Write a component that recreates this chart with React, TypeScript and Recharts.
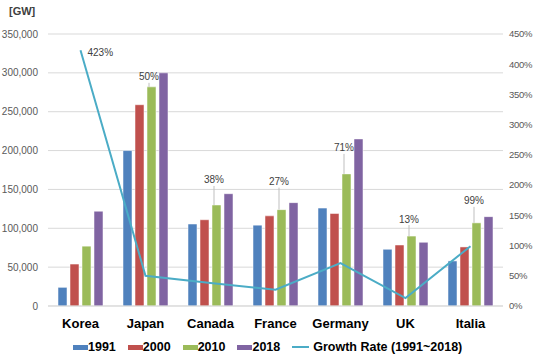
import React from 'react'
import { ComposedChart, Bar, Line, XAxis, YAxis, CartesianGrid, Legend } from 'recharts'

const countries = ['Korea', 'Japan', 'Canada', 'France', 'Germany', 'UK', 'Italia']
const cap1991 = [24000, 200000, 105500, 104000, 126000, 73000, 58000]
const cap2000 = [54000, 259000, 111000, 116000, 119000, 78500, 76000]
const cap2010 = [77000, 282000, 130000, 124000, 170000, 90000, 107000]
const cap2018 = [122000, 300000, 144500, 133000, 215000, 82000, 115000]
const growth = [423, 50, 38, 27, 71, 13, 99]

const leftTicks = [0, 50000, 100000, 150000, 200000, 250000, 300000, 350000]
const rightTicks = [0, 50, 100, 150, 200, 250, 300, 350, 400, 450]

const data = countries.map((name, i) => ({
  name,
  y1991: cap1991[i],
  y2000: cap2000[i],
  y2010: cap2010[i],
  y2018: cap2018[i],
  growth: growth[i],
}))

const FONT = '"Liberation Sans", Arial, sans-serif'

// how far each growth label sits above its 2010 bar (layout only)
const labelLift = [0, 10, 25, 28, 26, 17, 22]

const legendItems = [
  { label: '1991', color: '#4F81BD', kind: 'bar' },
  { label: '2000', color: '#C0504D', kind: 'bar' },
  { label: '2010', color: '#9BBB59', kind: 'bar' },
  { label: '2018', color: '#8064A2', kind: 'bar' },
  { label: 'Growth Rate (1991~2018)', color: '#4BACC6', kind: 'line' },
]

function BarGrowthLabel(props: any) {
  const { index } = props
  if (index === 0) return null
  const x = Number(props.x)
  const y = Number(props.y)
  const cx = x + 2
  const ty = y - labelLift[index]
  return (
    <g>
      <line x1={cx} y1={ty + 6} x2={cx} y2={y} stroke="#BFBFBF" strokeWidth={1} />
      <text x={cx} y={ty} textAnchor="middle" dominantBaseline="central" fontSize={10} fill="#404040" fontFamily={FONT}>
        {growth[index]}%
      </text>
    </g>
  )
}

function LineGrowthLabel(props: any) {
  const { index } = props
  if (index !== 0) return null
  const x = Number(props.x)
  const y = Number(props.y)
  return (
    <text x={x + 7} y={y + 2} dominantBaseline="central" fontSize={10} fill="#404040" fontFamily={FONT}>
      {growth[index]}%
    </text>
  )
}

function LegendContent() {
  return (
    <div style={{ display: 'flex', alignItems: 'center', height: 20, paddingLeft: 73, fontFamily: FONT, fontSize: 12.5, fontWeight: 'bold', color: '#000' }}>
      {legendItems.map((it) => (
        <div key={it.label} style={{ display: 'flex', alignItems: 'center', marginRight: 12 }}>
          {it.kind === 'bar' ? (
            <span style={{ display: 'inline-block', width: 15, height: 5, background: it.color }} />
          ) : (
            <span style={{ display: 'inline-block', width: 17, height: 2, background: it.color, marginRight: 4 }} />
          )}
          <span>{it.label}</span>
        </div>
      ))}
    </div>
  )
}

export default function App() {
  return (
    <div style={{ position: 'absolute', left: 0, top: 0, width: 533, height: 357, background: '#fff' }}>
      <div style={{ position: 'absolute', left: 9, top: 5, fontFamily: FONT, fontSize: 11, fontWeight: 'bold', color: '#404040' }}>
        [GW]
      </div>
      <ComposedChart
        width={533}
        height={357}
        data={data}
        margin={{ top: 34, right: 0, bottom: 0, left: 0 }}
        barSize={9}
        barGap={3}
      >
        <CartesianGrid vertical={false} stroke="#D9D9D9" yAxisId="left" />
        <XAxis
          dataKey="name"
          height={31}
          axisLine={{ stroke: '#D9D9D9' }}
          tickLine={false}
          tickMargin={7}
          tick={{ fontSize: 13, fontWeight: 'bold', fill: '#000', fontFamily: FONT }}
          interval={0}
        />
        <YAxis
          yAxisId="left"
          width={48}
          domain={[0, 350000]}
          ticks={leftTicks}
          axisLine={false}
          tickLine={false}
          tickMargin={4}
          tick={{ fontSize: 10, fill: '#595959', fontFamily: FONT }}
          tickFormatter={(v: number) => v.toLocaleString('en-US')}
        />
        <YAxis
          yAxisId="right"
          orientation="right"
          width={30}
          domain={[0, 450]}
          ticks={rightTicks}
          axisLine={false}
          tickLine={false}
          tickMargin={0}
          tick={{ fontSize: 9.5, fill: '#595959', fontFamily: FONT, letterSpacing: -0.3 }}
          tickFormatter={(v: number) => `${v}%`}
        />
        <Legend verticalAlign="bottom" height={20} wrapperStyle={{ left: 0, width: 533 }} content={<LegendContent />} />
        <Bar yAxisId="left" dataKey="y1991" fill="#4F81BD" stroke="#fff" strokeOpacity={0.5} isAnimationActive={false} />
        <Bar yAxisId="left" dataKey="y2000" fill="#C0504D" stroke="#fff" strokeOpacity={0.5} isAnimationActive={false} />
        <Bar
          yAxisId="left"
          dataKey="y2010"
          fill="#9BBB59"
          stroke="#fff"
          strokeOpacity={0.5}
          isAnimationActive={false}
          label={<BarGrowthLabel />}
        />
        <Bar yAxisId="left" dataKey="y2018" fill="#8064A2" stroke="#fff" strokeOpacity={0.5} isAnimationActive={false} />
        <Line
          yAxisId="right"
          dataKey="growth"
          type="linear"
          stroke="#4BACC6"
          strokeWidth={2}
          dot={false}
          isAnimationActive={false}
          label={<LineGrowthLabel />}
        />
      </ComposedChart>
    </div>
  )
}
